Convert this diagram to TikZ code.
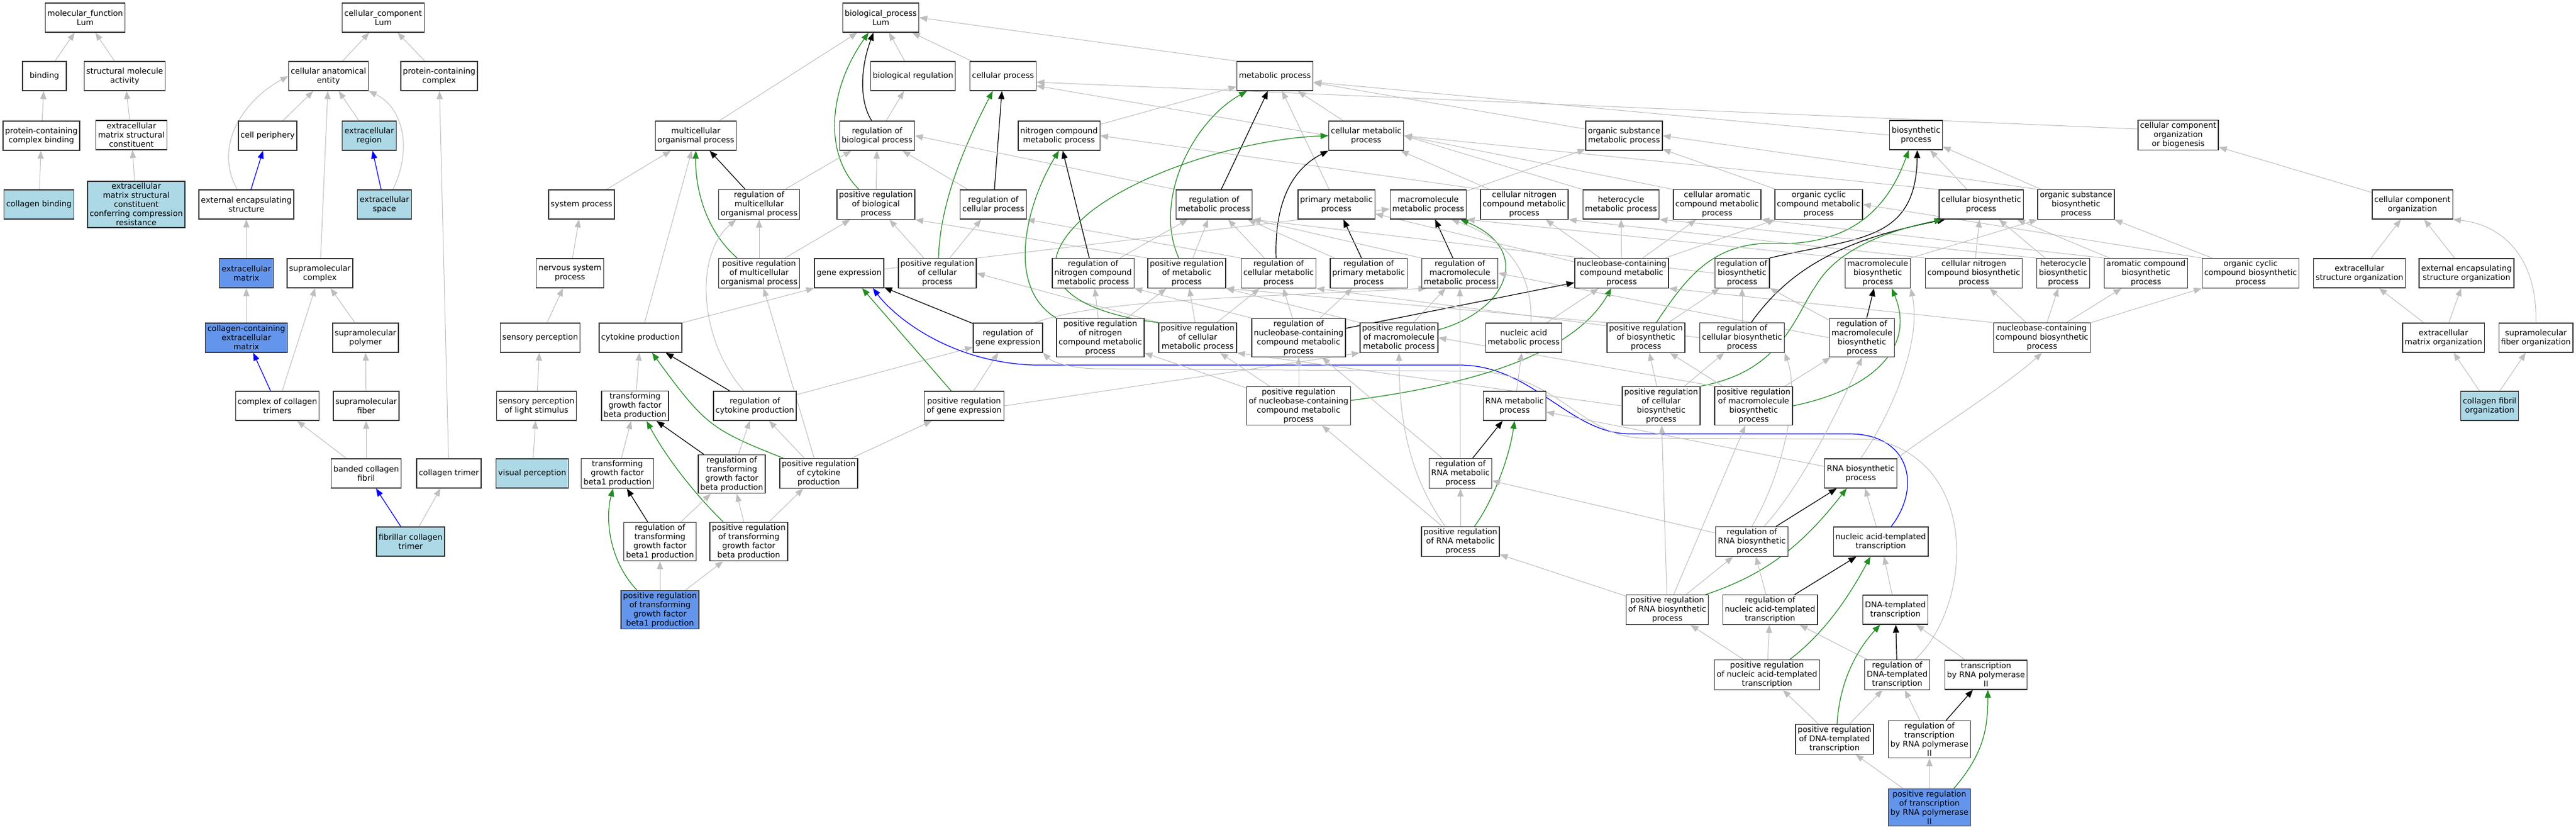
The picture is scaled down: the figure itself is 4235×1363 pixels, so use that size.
\documentclass[tikz,border=0pt]{standalone}
\usepackage{fontspec}
\setmainfont{DejaVu Sans}
\usepackage{tikz}
\usetikzlibrary{arrows.meta,backgrounds}
\definecolor{edgegray}{HTML}{BEBEBE}
\definecolor{posgreen}{HTML}{228B22}
\definecolor{hitblue}{HTML}{ADD8E6}
\definecolor{seedblue}{HTML}{6495ED}

\begin{document}
\begin{tikzpicture}[x=1pt, y=-1pt, % 1px = 1pt, y is downward
    term/.style={draw=black!80, line width=1.3pt, fill=white, align=center,
      font=\fontsize{13}{15}\selectfont, minimum width=72pt, minimum height=48pt,
      inner xsep=3.5pt, inner ysep=3pt}, % GO term box
    hit/.style={term, fill=hitblue}, % annotated terms
    seed/.style={term, fill=seedblue}, % query terms
    isa/.style={draw=edgegray, line width=1pt, -{Triangle[length=13pt,width=10pt]}}, % is_a
    reg/.style={isa, draw=black, line width=1.2pt}, % regulates
    preg/.style={isa, draw=posgreen, line width=1.2pt}, % positively regulates
    partof/.style={isa, draw=blue, line width=1.2pt}] % part_of
    \useasboundingbox (0,0) rectangle (4235,1363);

    % molecular function
    \node[term] (mf) at (140,29) {molecular\_function\\Lum};
    \node[term] (bind) at (73,125) {binding};
    \node[term] (sma) at (205,125) {structural molecule\\activity};
    \node[term] (pcb) at (68,223) {protein-containing\\complex binding};
    \node[term] (ecmsc) at (216,222) {extracellular\\matrix structural\\constituent};
    \node[hit] (colb) at (64,336) {collagen binding};
    \node[hit] (ecmcr) at (224,336) {extracellular\\matrix structural\\constituent\\conferring compression\\resistance};

    % cellular component
    \node[term] (cc) at (630,29) {cellular\_component\\Lum};
    \node[term] (cae) at (540,125) {cellular anatomical\\entity};
    \node[term] (pcc) at (722,125) {protein-containing\\complex};
    \node[term] (cper) at (440,223) {cell periphery};
    \node[hit] (ecr) at (607,223) {extracellular\\region};
    \node[term] (ees) at (405,336) {external encapsulating\\structure};
    \node[hit] (ecs) at (632,336) {extracellular\\space};
    \node[seed] (ecm) at (405,449) {extracellular\\matrix};
    \node[term] (smc) at (526,449) {supramolecular\\complex};
    \node[seed] (ccecm) at (405,555) {collagen-containing\\extracellular\\matrix};
    \node[term] (smp) at (601,555) {supramolecular\\polymer};
    \node[term] (cct) at (456,667) {complex of collagen\\trimers};
    \node[term] (smf) at (602,667) {supramolecular\\fiber};
    \node[term] (bcf) at (602,778) {banded collagen\\fibril};
    \node[term] (ct) at (738,778) {collagen trimer};
    \node[hit] (fct) at (675,890) {fibrillar collagen\\trimer};

    % biological process, ranks 0-3
    \node[term] (bp) at (1448,29) {biological\_process\\Lum};
    \node[term] (breg) at (1501,125) {biological regulation};
    \node[term] (cellp) at (1649,125) {cellular process};
    \node[term] (metp) at (2096,125) {metabolic process};
    \node[term] (mop) at (1144,223) {multicellular\\organismal process};
    \node[term] (rbp) at (1442,223) {regulation of\\biological process};
    \node[term] (nitro) at (1741,223) {nitrogen compound\\metabolic process};
    \node[term] (cmp) at (2246,223) {cellular metabolic\\process};
    \node[term] (osmp) at (2670,223) {organic substance\\metabolic process};
    \node[term] (biosyn) at (3150,222) {biosynthetic\\process};
    \node[term] (ccob) at (3581,222) {cellular component\\organization\\or biogenesis};
    \node[term] (sysp) at (956,336) {system process};
    \node[term] (rmop) at (1248,336) {regulation of\\multicellular\\organismal process};
    \node[term] (prbp) at (1440,336) {positive regulation\\of biological\\process};
    \node[term] (rcp) at (1633,336) {regulation of\\cellular process};
    \node[term] (rmp) at (1996,336) {regulation of\\metabolic process};
    \node[term] (primp) at (2197,336) {primary metabolic\\process};
    \node[term] (mmp) at (2348,336) {macromolecule\\metabolic process};
    \node[term] (cncmp) at (2506,336) {cellular nitrogen\\compound metabolic\\process};
    \node[term] (hmp) at (2665,336) {heterocycle\\metabolic process};
    \node[term] (camp) at (2823,336) {cellular aromatic\\compound metabolic\\process};
    \node[term] (occmp) at (2990,336) {organic cyclic\\compound metabolic\\process};
    \node[term] (cbp) at (3257,336) {cellular biosynthetic\\process};
    \node[term] (osbp) at (3413,336) {organic substance\\biosynthetic\\process};
    \node[term] (ccorg) at (3966,336) {cellular component\\organization};

    % rank 4
    \node[term] (nsp) at (937,449) {nervous system\\process};
    \node[term] (prmop) at (1248,449) {positive regulation\\of multicellular\\organismal process};
    \node[term] (gexp) at (1396,449) {gene expression};
    \node[term] (prcp) at (1541,449) {positive regulation\\of cellular\\process};
    \node[term] (rnitro) at (1797,449) {regulation of\\nitrogen compound\\metabolic process};
    \node[term] (prmp) at (1951,449) {positive regulation\\of metabolic\\process};
    \node[term] (rcmp) at (2102,449) {regulation of\\cellular metabolic\\process};
    \node[term] (rprimp) at (2250,449) {regulation of\\primary metabolic\\process};
    \node[term] (rmmp) at (2400,449) {regulation of\\macromolecule\\metabolic process};
    \node[term] (nbcmp) at (2666,449) {nucleobase-containing\\compound metabolic\\process};
    \node[term] (rbsp) at (2864,449) {regulation of\\biosynthetic\\process};
    \node[term] (mbp) at (3087,449) {macromolecule\\biosynthetic\\process};
    \node[term] (cncbp) at (3245,449) {cellular nitrogen\\compound biosynthetic\\process};
    \node[term] (hbp) at (3392,449) {heterocycle\\biosynthetic\\process};
    \node[term] (acbp) at (3528,449) {aromatic compound\\biosynthetic\\process};
    \node[term] (occbp) at (3700,449) {organic cyclic\\compound biosynthetic\\process};
    \node[term] (esorg) at (3879,449) {extracellular\\structure organization};
    \node[term] (eesorg) at (4055,449) {external encapsulating\\structure organization};

    % rank 5
    \node[term] (sensp) at (888,555) {sensory perception};
    \node[term] (cytp) at (1053,555) {cytokine production};
    \node[term] (rgexp) at (1657,555) {regulation of\\gene expression};
    \node[term] (prnitro) at (1809,555) {positive regulation\\of nitrogen\\compound metabolic\\process};
    \node[term] (prcmp) at (1969,555) {positive regulation\\of cellular\\metabolic process};
    \node[term] (rnbcmp) at (2135,555) {regulation of\\nucleobase-containing\\compound metabolic\\process};
    \node[term] (prmmp) at (2300,555) {positive regulation\\of macromolecule\\metabolic process};
    \node[term] (nacmp) at (2505,555) {nucleic acid\\metabolic process};
    \node[term] (prbsp) at (2706,555) {positive regulation\\of biosynthetic\\process};
    \node[term] (rcbp) at (2864,555) {regulation of\\cellular biosynthetic\\process};
    \node[term] (rmbp) at (3061,555) {regulation of\\macromolecule\\biosynthetic\\process};
    \node[term] (nbcbp) at (3357,555) {nucleobase-containing\\compound biosynthetic\\process};
    \node[term] (ecmorg) at (4017,555) {extracellular\\matrix organization};
    \node[term] (sforg) at (4169,555) {supramolecular\\fiber organization};

    % rank 6
    \node[term] (splight) at (882,667) {sensory perception\\of light stimulus};
    \node[term] (tgfbp) at (1044,667) {transforming\\growth factor\\beta production};
    \node[term] (rcytp) at (1241,667) {regulation of\\cytokine production};
    \node[term] (prgexp) at (1585,667) {positive regulation\\of gene expression};
    \node[term] (prnbcmp) at (2135,667) {positive regulation\\of nucleobase-containing\\compound metabolic\\process};
    \node[term] (rnamp) at (2490,667) {RNA metabolic\\process};
    \node[term] (prcbp) at (2731,667) {positive regulation\\of cellular\\biosynthetic\\process};
    \node[term] (prmbp) at (2883,667) {positive regulation\\of macromolecule\\biosynthetic\\process};
    \node[hit] (cforg) at (4093,667) {collagen fibril\\organization};

    % rank 7-8
    \node[hit] (visp) at (875,778) {visual perception};
    \node[term] (tgfb1p) at (1015,778) {transforming\\growth factor\\beta1 production};
    \node[term] (rtgfbp) at (1203,779) {regulation of\\transforming\\growth factor\\beta production};
    \node[term] (prcytp) at (1346,778) {positive regulation\\of cytokine\\production};
    \node[term] (rrnamp) at (2401,778) {regulation of\\RNA metabolic\\process};
    \node[term] (rnabp) at (3059,778) {RNA biosynthetic\\process};
    \node[term] (rtgfb1p) at (1085,890) {regulation of\\transforming\\growth factor\\beta1 production};
    \node[term] (prtgfbp) at (1231,890) {positive regulation\\of transforming\\growth factor\\beta production};
    \node[term] (prrnamp) at (2401,890) {positive regulation\\of RNA metabolic\\process};
    \node[term] (rrnabp) at (2880,890) {regulation of\\RNA biosynthetic\\process};
    \node[term] (natt) at (3092,890) {nucleic acid-templated\\transcription};

    % rank 9-12
    \node[seed] (prtgfb1p) at (1085,1002) {positive regulation\\of transforming\\growth factor\\beta1 production};
    \node[term] (prrnabp) at (2741,1002) {positive regulation\\of RNA biosynthetic\\process};
    \node[term] (rnatt) at (2910,1002) {regulation of\\nucleic acid-templated\\transcription};
    \node[term] (dtt) at (3116,1002) {DNA-templated\\transcription};
    \node[term] (prnatt) at (2905,1109) {positive regulation\\of nucleic acid-templated\\transcription};
    \node[term] (rdtt) at (3119,1109) {regulation of\\DNA-templated\\transcription};
    \node[term] (trna2) at (3265,1109) {transcription\\by RNA polymerase\\II};
    \node[term] (prdtt) at (3016,1215) {positive regulation\\of DNA-templated\\transcription};
    \node[term] (rtrna2) at (3172,1215) {regulation of\\transcription\\by RNA polymerase\\II};
    \node[seed] (prtrna2) at (3172,1327) {positive regulation\\of transcription\\by RNA polymerase\\II};

    \begin{pgfonlayer}{background}
    \fill[white] (0,0) rectangle (4235,1363); % background

    % molecular function edges
    \draw[isa] (bind) -- (mf);
    \draw[isa] (sma) -- (mf);
    \draw[isa] (pcb) -- (bind);
    \draw[isa] (ecmsc) -- (sma);
    \draw[isa] (colb) -- (pcb);
    \draw[isa] (ecmcr) -- (ecmsc);

    % cellular component edges
    \draw[isa] (cae) -- (cc);
    \draw[isa] (pcc) -- (cc);
    \draw[isa] (cper) -- (cae);
    \draw[isa] (ecr) -- (cae);
    \draw[isa] ([xshift=-15pt]ees.north) .. controls (350,240) and (400,165) .. (cae.west);
    \draw[isa] ([xshift=14pt]ecs.north) .. controls (680,240) and (660,175) .. (cae.south east);
    \draw[isa] (smc) -- (cae);
    \draw[isa] (ecm) -- (ees);
    \draw[isa] (ccecm) -- (ecm);
    \draw[isa] (cct) -- (smc);
    \draw[isa] (smp) -- (smc);
    \draw[isa] (smf) -- (smp);
    \draw[isa] (bcf) -- (cct);
    \draw[isa] (bcf) -- (smf);
    \draw[isa] (fct) -- (ct);
    \draw[isa] (ct) -- (pcc);
    \draw[partof] (ees) -- (cper);
    \draw[partof] (ecs) -- (ecr);
    \draw[partof] (cct) -- (ccecm);
    \draw[partof] (fct) -- (bcf);

    % top of biological process
    \draw[isa] (mop) -- (bp);
    \draw[isa] (breg) -- (bp);
    \draw[isa] (cellp) -- (bp);
    \draw[isa] (metp.north west) -- (bp.east);
    \draw[reg] ([xshift=-9pt]rbp.north) .. controls (1412,165) and (1415,110) .. ([xshift=-12pt]bp.south);
    \draw[preg] ([xshift=-28pt]prbp.north) .. controls (1355,255) and (1360,150) .. ([xshift=-20pt]bp.south);
    \draw[isa] (rbp) -- (breg);
    \draw[isa] ([yshift=10pt]ccob.west) -- ([yshift=-10pt]cellp.east);
    \draw[isa] (cmp.west) -- ([yshift=-16pt]cellp.east);
    \draw[isa] (cmp) -- (metp);
    \draw[isa] (nitro) -- (metp);
    \draw[isa] (primp) -- (metp);
    \draw[isa] (osmp) -- (metp);
    \draw[isa] (biosyn.west) -- ([yshift=-10pt]metp.east);

    % multicellular and cytokine
    \draw[isa] (sysp) -- (mop);
    \draw[reg] (rmop) -- (mop);
    \draw[preg] ([xshift=-36pt]prmop.north) .. controls (1150,370) and (1143,290) .. (mop.south);
    \draw[isa] (cytp) -- (mop);
    \draw[isa] (rmop) -- (rbp);
    \draw[isa] (prmop) -- (rmop);
    \draw[isa] (prmop) -- (prbp);
    \draw[isa] (nsp) -- (sysp);
    \draw[isa] (sensp) -- (nsp);
    \draw[isa] (splight) -- (sensp);
    \draw[isa] (visp) -- (splight);
    \draw[isa] ([xshift=-18pt]rcytp.north) .. controls (1150,560) and (1140,420) .. ([xshift=-38pt]rmop.south);
    \draw[isa] (prcytp) -- (prmop);
    \draw[isa] (cytp.north east) -- (gexp.south west);
    \draw[isa] (rcytp) -- (rgexp);
    \draw[isa] (tgfbp) -- (cytp);
    \draw[reg] (rcytp) -- (cytp);
    \draw[preg] ([xshift=-58pt]prcytp.north) .. controls (1170,706) and (1160,700) .. ([xshift=19pt]cytp.south);
    \draw[isa] (prcytp) -- (rcytp);
    \draw[isa] (prcytp) -- (prgexp);
    \draw[isa] (tgfb1p) -- (tgfbp);
    \draw[reg] (rtgfbp) -- (tgfbp);
    \draw[preg] ([xshift=-42pt]prtgfbp.north) .. controls (1150,820) and (1100,760) .. ([xshift=19pt]tgfbp.south);
    \draw[isa] (rtgfbp) -- (rcytp);
    \draw[isa] (prtgfbp) -- (rtgfbp);
    \draw[isa] (prtgfbp) -- (prcytp);
    \draw[reg] (rtgfb1p) -- (tgfb1p);
    \draw[isa] (rtgfb1p) -- (rtgfbp);
    \draw[preg] ([xshift=-38pt]prtgfb1p.north) .. controls (1000,920) and (995,850) .. ([xshift=-7pt]tgfb1p.south);
    \draw[isa] (prtgfb1p) -- (rtgfb1p);
    \draw[isa] (prtgfb1p) -- (prtgfbp);

    % regulation of biological / cellular process
    \draw[isa] (prbp) -- (rbp);
    \draw[isa] (prcp) -- (prbp);
    \draw[isa] (prcp) -- (rcp);
    \draw[isa] (rcp) -- (rbp);
    \draw[reg] (rcp) -- (cellp);
    \draw[preg] ([xshift=2pt]prcp.north) .. controls (1545,340) and (1580,250) .. ([xshift=-17pt]cellp.south);
    \draw[isa] (rmp.north west) -- (rbp.east);
    \draw[reg] (rmp) -- (metp);
    \draw[preg] ([xshift=-13pt]prmp.north) .. controls (1895,330) and (1960,200) .. ([xshift=-46pt]metp.south);
    \draw[isa] (prmp) -- (rmp);
    \draw[isa] (prmp.north west) -- (prbp.south east);
    \draw[isa] (rcmp.north west) -- (rcp.south east);
    \draw[isa] (prcmp.north west) -- (prcp.east);

    % gene expression
    \draw[isa] (gexp) -- (mmp);
    \draw[reg] (rgexp) -- (gexp);
    \draw[preg] (prgexp) -- (gexp);
    \draw[isa] (prgexp) -- (rgexp);
    \draw[isa] ([xshift=44pt]rgexp.north) .. controls (1800,495) and (2000,490) .. ([xshift=-55pt]rmmp.south);
    \draw[isa] (prgexp.east) -- (prmmp.south west);
    \draw[partof] ([xshift=17pt]natt.north) .. controls (3160,800) and (3140,713) .. (3040,713) -- (2680,713) .. controls (2580,713) and (2520,600) .. (2400,600) -- (1700,600) .. controls (1560,595) and (1470,520) .. ([xshift=39pt]gexp.south);
    \draw[isa] ([xshift=29pt]rdtt.north) .. controls (3240,1000) and (3260,760) .. (3080,722) -- (2700,720) .. controls (2600,718) and (2560,612) .. (2420,610) -- (1800,606) .. controls (1760,605) and (1730,595) .. (rgexp.south east);

    % metabolic process
    \draw[isa] (mmp) -- (osmp);
    \draw[isa] (cncmp.north west) -- (nitro.east);
    \draw[isa] (cncmp) -- (cmp);
    \draw[isa] (hmp.north west) -- (cmp.east);
    \draw[isa] (camp.north west) -- (cmp.east);
    \draw[isa] (occmp) -- (osmp);
    \draw[isa] (osbp.north west) -- (osmp.east);
    \draw[isa] (osbp) -- (biosyn);
    \draw[isa] (cbp) -- (biosyn);
    \draw[isa] (cbp.north west) -- (cmp.east);
    \draw[isa] (rnitro) -- (rmp);
    \draw[reg] (rnitro) -- (nitro);
    \draw[preg] (prnitro.north west) .. controls (1650,470) and (1690,330) .. (nitro.south);
    \draw[isa] (prnitro) -- (rnitro);
    \draw[isa] (prnitro) -- (prmp);
    \draw[isa] (rcmp) -- (rmp);
    \draw[reg] ([xshift=-4pt]rcmp.north) .. controls (2095,340) and (2120,280) .. (cmp.south west);
    \draw[preg] (prcmp.north west) .. controls (1740,510) and (1680,440) .. (1793,348) .. controls (1880,280) and (2050,228) .. (cmp.west);
    \draw[isa] (prcmp) -- (rcmp);
    \draw[isa] (prcmp) -- (prmp);
    \draw[reg] (rprimp) -- (primp);
    \draw[isa] (rprimp) -- (rmp);
    \draw[reg] (rmmp) -- (mmp);
    \draw[isa] (rmmp.north west) -- (rmp.south east);
    \draw[preg] ([yshift=13pt]prmmp.east) .. controls (2480,510) and (2520,410) .. ([xshift=53pt]mmp.south);
    \draw[isa] (prmmp) -- (rmmp);
    \draw[isa] (prmmp.north west) -- (prmp.south east);
    \draw[reg] (rnbcmp) -- (nbcmp);
    \draw[isa] (rnbcmp) -- (rcmp);
    \draw[isa] (rnbcmp) -- (rprimp);
    \draw[isa] (rnbcmp.north west) -- (rnitro.south east);
    \draw[preg] ([yshift=9pt]prnbcmp.east) .. controls (2480,625) and (2600,560) .. ([xshift=-17pt]nbcmp.south);
    \draw[isa] (prnbcmp) -- (rnbcmp);
    \draw[isa] (prnbcmp) -- (prcmp);
    \draw[isa] (prnbcmp) -- (prnitro);
    \draw[isa] (nbcmp) -- (cncmp);
    \draw[isa] (nbcmp) -- (hmp);
    \draw[isa] (nbcmp) -- (camp);
    \draw[isa] (nbcmp) -- (occmp);
    \draw[isa] (nbcmp) -- (primp);
    \draw[isa] (nacmp) -- (nbcmp);
    \draw[isa] ([xshift=12pt]nacmp.north) .. controls (2520,440) and (2470,390) .. ([xshift=38pt]mmp.south);
    \draw[isa] (rnamp) -- (nacmp);
    \draw[reg] (rrnamp) -- (rnamp);
    \draw[isa] (rrnamp) -- (rnbcmp);
    \draw[isa] (rrnamp) -- (rmmp);
    \draw[preg] ([xshift=23pt]prrnamp.north) .. controls (2450,830) and (2480,760) .. (rnamp.south);
    \draw[isa] (prrnamp) -- (rrnamp);
    \draw[isa] (prrnamp) -- (prnbcmp);
    \draw[isa] ([xshift=-25pt]prrnamp.north) .. controls (2330,800) and (2300,720) .. (prmmp.south);
    \draw[isa] (rnabp) -- (rnamp);
    \draw[isa] (rrnabp) -- (rrnamp);
    \draw[isa] (prrnabp) -- (prrnamp);

    % biosynthetic process
    \draw[isa] (rbsp.west) -- (rmp.south east);
    \draw[reg] (rbsp.north east) .. controls (3050,390) and (3150,400) .. ([xshift=2pt]biosyn.south);
    \draw[preg] ([xshift=17pt]prbsp.north) .. controls (2770,460) and (2810,405) .. (2900,400) .. controls (3000,405) and (3090,380) .. ([xshift=-12pt]biosyn.south);
    \draw[isa] (prbsp) -- (rbsp);
    \draw[isa] (prbsp.north west) -- (prmp.south east);
    \draw[isa] (mbp.north east) -- (osbp.south west);
    \draw[isa] (mbp.north west) -- (mmp.south east);
    \draw[isa] (cncbp) -- (cbp);
    \draw[isa] (cncbp.north west) -- (cncmp.south east);
    \draw[isa] (hbp) -- (cbp);
    \draw[isa] (hbp.north west) -- (hmp.south east);
    \draw[isa] (acbp) -- (cbp);
    \draw[isa] (acbp.north west) -- (camp.south east);
    \draw[isa] (occbp) -- (osbp);
    \draw[isa] (occbp.north west) -- (occmp.east);
    \draw[isa] (nbcbp) -- (cncbp);
    \draw[isa] (nbcbp) -- (hbp);
    \draw[isa] (nbcbp) -- (acbp);
    \draw[isa] (nbcbp) -- (occbp);
    \draw[isa] (nbcbp.north west) -- (nbcmp.south east);
    \draw[isa] (rcbp) -- (rbsp);
    \draw[isa] (rcbp.west) -- (rcmp.south east);
    \draw[reg] ([xshift=15pt]rcbp.north) .. controls (2950,430) and (3050,390) .. ([xshift=-59pt]cbp.south);
    \draw[isa] (rmbp) -- (rbsp);
    \draw[isa] (rmbp.west) -- (rmmp.east);
    \draw[reg] (rmbp) -- (mbp);
    \draw[preg] (prcbp.north east) .. controls (2930,610) and (2950,520) .. (2985,470) .. controls (3020,410) and (3100,380) .. ([xshift=-64pt]cbp.south);
    \draw[isa] (prcbp) -- (rcbp);
    \draw[isa] (prcbp) -- (prbsp);
    \draw[isa] (prcbp.west) -- (prcmp.south east);
    \draw[preg] (prmbp.east) .. controls (3080,640) and (3150,570) .. ([xshift=23pt]mbp.south);
    \draw[isa] (prmbp) -- (rmbp);
    \draw[isa] (prmbp) -- (prbsp);
    \draw[isa] (prmbp.north west) -- (prmmp.east);

    % transcription
    \draw[isa] (rnabp.north) .. controls (3110,680) and (3160,560) .. (mbp.south east);
    \draw[isa] (rnabp.north east) .. controls (3160,720) and (3290,640) .. (nbcbp.south);
    \draw[isa] (rrnabp.north) .. controls (2930,780) and (2960,650) .. (rcbp.south east);
    \draw[isa] ([xshift=20pt]rrnabp.north) .. controls (2960,800) and (3020,680) .. (rmbp.south);
    \draw[reg] (rrnabp) -- (rnabp);
    \draw[preg] ([xshift=63pt]prrnabp.north) .. controls (2900,945) and (2960,900) .. ([xshift=-23pt]rnabp.south);
    \draw[isa] (prrnabp) -- (rrnabp);
    \draw[isa] (prrnabp) -- (prcbp);
    \draw[isa] (prrnabp) -- (prmbp);
    \draw[isa] (natt) -- (rnabp);
    \draw[reg] (rnatt) -- (natt);
    \draw[isa] (rnatt) -- (rrnabp);
    \draw[preg] ([xshift=37pt]prnatt.north) .. controls (3000,1040) and (3040,980) .. ([xshift=-17pt]natt.south);
    \draw[isa] (prnatt) -- (rnatt);
    \draw[isa] (prnatt) -- (prrnabp);
    \draw[isa] (dtt) -- (natt);
    \draw[reg] (rdtt) -- (dtt);
    \draw[isa] (rdtt) -- (rnatt);
    \draw[isa] (trna2) -- (dtt);
    \draw[preg] ([xshift=4pt]prdtt.north) .. controls (3025,1110) and (3060,1060) .. ([xshift=-25pt]dtt.south);
    \draw[isa] (prdtt) -- (prnatt);
    \draw[isa] (prdtt) -- (rdtt);
    \draw[reg] (rtrna2) -- (trna2);
    \draw[isa] (rtrna2) -- (rdtt);
    \draw[preg] ([xshift=40pt]prtrna2.north) .. controls (3260,1240) and (3268,1200) .. ([xshift=3pt]trna2.south);
    \draw[isa] (prtrna2) -- (rtrna2);
    \draw[isa] (prtrna2) -- (prdtt);

    % cellular component organization
    \draw[isa] (ccorg) -- (ccob);
    \draw[isa] (esorg) -- (ccorg);
    \draw[isa] (eesorg) -- (ccorg);
    \draw[isa] (ecmorg) -- (esorg);
    \draw[isa] (ecmorg) -- (eesorg);
    \draw[isa] (sforg.north) .. controls (4172,430) and (4120,370) .. (ccorg.south east);
    \draw[isa] (cforg) -- (ecmorg);
    \draw[isa] (cforg) -- (sforg);
    \end{pgfonlayer}
\end{tikzpicture}
\end{document}
